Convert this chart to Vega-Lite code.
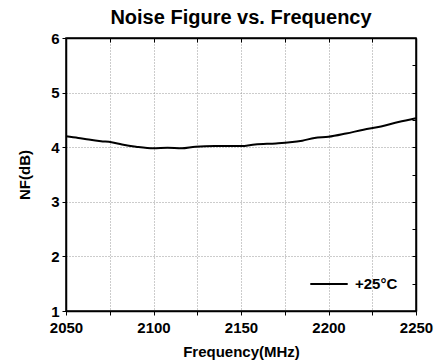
{
  "$schema": "https://vega.github.io/schema/vega-lite/v6.json",
  "width": 350,
  "height": 273,
  "autosize": "none",
  "padding": {"left": 66, "top": 38, "right": 18, "bottom": 52},
  "background": "white",
  "title": {"text": "Noise Figure vs. Frequency", "font": "Liberation Sans", "fontSize": 20, "fontWeight": "bold", "color": "black", "offset": 3, "anchor": "middle"},
  "config": {"view": {"stroke": "black", "strokeWidth": 1.5}},
  "data": {"values": [
    {"f": 2050, "nf": 4.2, "s": "+25°C"},
    {"f": 2057, "nf": 4.17, "s": "+25°C"},
    {"f": 2063, "nf": 4.14, "s": "+25°C"},
    {"f": 2070, "nf": 4.11, "s": "+25°C"},
    {"f": 2076, "nf": 4.09, "s": "+25°C"},
    {"f": 2082, "nf": 4.05, "s": "+25°C"},
    {"f": 2090, "nf": 4.01, "s": "+25°C"},
    {"f": 2100, "nf": 3.98, "s": "+25°C"},
    {"f": 2108, "nf": 3.99, "s": "+25°C"},
    {"f": 2116, "nf": 3.98, "s": "+25°C"},
    {"f": 2124, "nf": 4.01, "s": "+25°C"},
    {"f": 2135, "nf": 4.02, "s": "+25°C"},
    {"f": 2150, "nf": 4.02, "s": "+25°C"},
    {"f": 2158, "nf": 4.05, "s": "+25°C"},
    {"f": 2170, "nf": 4.07, "s": "+25°C"},
    {"f": 2178, "nf": 4.09, "s": "+25°C"},
    {"f": 2185, "nf": 4.12, "s": "+25°C"},
    {"f": 2192, "nf": 4.17, "s": "+25°C"},
    {"f": 2200, "nf": 4.19, "s": "+25°C"},
    {"f": 2210, "nf": 4.25, "s": "+25°C"},
    {"f": 2220, "nf": 4.32, "s": "+25°C"},
    {"f": 2230, "nf": 4.38, "s": "+25°C"},
    {"f": 2240, "nf": 4.46, "s": "+25°C"},
    {"f": 2250, "nf": 4.53, "s": "+25°C"}
  ]},
  "resolve": {"axis": {"x": "independent", "y": "independent"}},
  "layer": [
    {
      "mark": {"type": "line", "strokeWidth": 2, "interpolate": "monotone"},
      "encoding": {
        "x": {"field": "f", "type": "quantitative", "scale": {"domain": [2050, 2250], "nice": false, "zero": false},
          "axis": {"orient": "bottom", "values": [2050, 2075, 2100, 2125, 2150, 2175, 2200, 2225, 2250],
            "labelExpr": "datum.value % 50 == 0 ? datum.label : ''", "format": "d",
            "title": "Frequency(MHz)", "titleFont": "Liberation Sans", "titleFontSize": 15, "titleFontWeight": "bold", "titleColor": "black", "titlePadding": 9,
            "labelFont": "Liberation Sans", "labelFontSize": 15, "labelFontWeight": "bold", "labelColor": "black", "labelPadding": 5, "labelFlush": false, "labelOverlap": false,
            "tickSize": 4, "tickColor": "black", "tickWidth": 1, "domainColor": "black", "domainWidth": 1.5,
            "grid": true, "gridDash": [1, 2], "gridColor": "#999", "gridWidth": 1}},
        "y": {"field": "nf", "type": "quantitative", "scale": {"domain": [1, 6], "nice": false, "zero": false},
          "axis": {"orient": "left", "values": [1, 1.5, 2, 2.5, 3, 3.5, 4, 4.5, 5, 5.5, 6], "format": "d",
            "labelExpr": "datum.value % 1 == 0 ? datum.label : ''",
            "title": "NF(dB)", "titleFont": "Liberation Sans", "titleFontSize": 15, "titleFontWeight": "bold", "titleColor": "black", "titlePadding": 18,
            "labelFont": "Liberation Sans", "labelFontSize": 15, "labelFontWeight": "bold", "labelColor": "black", "labelPadding": 3, "labelFlush": false, "labelOverlap": false,
            "tickSize": 4, "tickColor": "black", "tickWidth": 1, "domainColor": "black", "domainWidth": 1.5,
            "grid": true, "gridDash": [1, 2], "gridColor": "#999", "gridWidth": 1}},
        "color": {"field": "s", "type": "nominal", "scale": {"range": ["black"]},
          "legend": {"title": null, "orient": "none", "legendX": 243, "legendY": 226, "symbolType": "stroke", "symbolSize": 1400, "symbolStrokeWidth": 2,
            "labelFont": "Liberation Sans", "labelFontSize": 15, "labelFontWeight": "bold", "labelColor": "black", "labelOffset": 6}}
      }
    },
    {
      "mark": {"type": "line", "strokeOpacity": 0},
      "encoding": {
        "x": {"field": "f", "type": "quantitative",
          "axis": {"orient": "top", "values": [2050, 2075, 2100, 2125, 2150, 2175, 2200, 2225, 2250], "labels": false, "title": null,
            "tickSize": -4, "tickColor": "black", "tickWidth": 1, "domainColor": "black", "domainWidth": 1.5, "grid": false}},
        "y": {"field": "nf", "type": "quantitative",
          "axis": {"orient": "right", "values": [1, 1.5, 2, 2.5, 3, 3.5, 4, 4.5, 5, 5.5, 6], "labels": false, "title": null,
            "tickSize": -4, "tickColor": "black", "tickWidth": 1, "domainColor": "black", "domainWidth": 1.5, "grid": false}}
      }
    }
  ]
}
